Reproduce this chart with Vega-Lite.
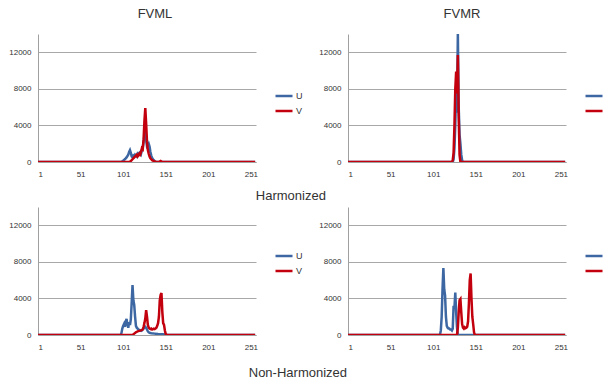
{
  "$schema": "https://vega.github.io/schema/vega-lite/v6.json",
  "background": "white",
  "padding": {"left": 8, "top": 8, "right": 0, "bottom": 0},
  "spacing": 4,
  "config": {
    "view": {"stroke": null},
    "font": "Liberation Sans",
    "axis": {"labelFont": "Liberation Sans", "labelFontSize": 8, "labelColor": "#333333", "ticks": false, "domainColor": "#a0a0a0", "gridColor": "#a8a8a8", "titleFontSize": 0, "format": "d"},
    "legend": {"labelFont": "Liberation Sans", "labelFontSize": 9, "labelColor": "#333333"},
    "title": {"font": "Liberation Sans", "fontSize": 13, "fontWeight": "normal", "color": "#333333", "anchor": "middle"},
    "concat": {"spacing": 15}
  },
  "data": {"values": [
    {"p":"A","s":"U","x":1,"y":0},{"p":"A","s":"U","x":99,"y":0},{"p":"A","s":"U","x":101,"y":150},{"p":"A","s":"U","x":103,"y":300},{"p":"A","s":"U","x":105,"y":500},{"p":"A","s":"U","x":107,"y":800},{"p":"A","s":"U","x":108,"y":1100},{"p":"A","s":"U","x":109,"y":1300},{"p":"A","s":"U","x":110,"y":1000},{"p":"A","s":"U","x":111,"y":600},{"p":"A","s":"U","x":112,"y":500},{"p":"A","s":"U","x":113,"y":700},{"p":"A","s":"U","x":114,"y":600},{"p":"A","s":"U","x":115,"y":800},{"p":"A","s":"U","x":116,"y":700},{"p":"A","s":"U","x":117,"y":600},{"p":"A","s":"U","x":118,"y":900},{"p":"A","s":"U","x":119,"y":800},{"p":"A","s":"U","x":120,"y":1000},{"p":"A","s":"U","x":121,"y":1100},{"p":"A","s":"U","x":122,"y":900},{"p":"A","s":"U","x":123,"y":1300},{"p":"A","s":"U","x":124,"y":1600},{"p":"A","s":"U","x":125,"y":2200},{"p":"A","s":"U","x":126,"y":2900},{"p":"A","s":"U","x":127,"y":3100},{"p":"A","s":"U","x":128,"y":2400},{"p":"A","s":"U","x":129,"y":1700},{"p":"A","s":"U","x":130,"y":1800},{"p":"A","s":"U","x":131,"y":2000},{"p":"A","s":"U","x":132,"y":1700},{"p":"A","s":"U","x":133,"y":1100},{"p":"A","s":"U","x":134,"y":700},{"p":"A","s":"U","x":135,"y":450},{"p":"A","s":"U","x":136,"y":300},{"p":"A","s":"U","x":137,"y":200},{"p":"A","s":"U","x":138,"y":100},{"p":"A","s":"U","x":139,"y":0},{"p":"A","s":"U","x":256,"y":0},
    {"p":"A","s":"V","x":1,"y":0},{"p":"A","s":"V","x":108,"y":0},{"p":"A","s":"V","x":110,"y":100},{"p":"A","s":"V","x":112,"y":300},{"p":"A","s":"V","x":114,"y":500},{"p":"A","s":"V","x":116,"y":700},{"p":"A","s":"V","x":117,"y":800},{"p":"A","s":"V","x":118,"y":600},{"p":"A","s":"V","x":119,"y":700},{"p":"A","s":"V","x":120,"y":900},{"p":"A","s":"V","x":121,"y":800},{"p":"A","s":"V","x":122,"y":1100},{"p":"A","s":"V","x":123,"y":1500},{"p":"A","s":"V","x":124,"y":1400},{"p":"A","s":"V","x":125,"y":2500},{"p":"A","s":"V","x":126,"y":4500},{"p":"A","s":"V","x":127,"y":5900},{"p":"A","s":"V","x":128,"y":4200},{"p":"A","s":"V","x":129,"y":2200},{"p":"A","s":"V","x":130,"y":1300},{"p":"A","s":"V","x":131,"y":900},{"p":"A","s":"V","x":132,"y":600},{"p":"A","s":"V","x":133,"y":400},{"p":"A","s":"V","x":134,"y":300},{"p":"A","s":"V","x":135,"y":200},{"p":"A","s":"V","x":136,"y":150},{"p":"A","s":"V","x":137,"y":100},{"p":"A","s":"V","x":138,"y":50},{"p":"A","s":"V","x":140,"y":0},{"p":"A","s":"V","x":143,"y":0},{"p":"A","s":"V","x":145,"y":120},{"p":"A","s":"V","x":147,"y":0},{"p":"A","s":"V","x":256,"y":0},
    {"p":"B","s":"U","x":1,"y":0},{"p":"B","s":"U","x":124,"y":0},{"p":"B","s":"U","x":125,"y":300},{"p":"B","s":"U","x":126,"y":1500},{"p":"B","s":"U","x":127,"y":4000},{"p":"B","s":"U","x":128,"y":8000},{"p":"B","s":"U","x":129,"y":5400},{"p":"B","s":"U","x":130,"y":14000},{"p":"B","s":"U","x":131,"y":6000},{"p":"B","s":"U","x":132,"y":3000},{"p":"B","s":"U","x":133,"y":2000},{"p":"B","s":"U","x":134,"y":800},{"p":"B","s":"U","x":135,"y":200},{"p":"B","s":"U","x":136,"y":0},{"p":"B","s":"U","x":256,"y":0},
    {"p":"B","s":"V","x":1,"y":0},{"p":"B","s":"V","x":123,"y":0},{"p":"B","s":"V","x":124,"y":200},{"p":"B","s":"V","x":125,"y":1000},{"p":"B","s":"V","x":126,"y":4000},{"p":"B","s":"V","x":127,"y":8000},{"p":"B","s":"V","x":128,"y":9900},{"p":"B","s":"V","x":129,"y":7500},{"p":"B","s":"V","x":130,"y":11700},{"p":"B","s":"V","x":131,"y":5000},{"p":"B","s":"V","x":132,"y":800},{"p":"B","s":"V","x":133,"y":0},{"p":"B","s":"V","x":256,"y":0},
    {"p":"C","s":"U","x":1,"y":0},{"p":"C","s":"U","x":98,"y":0},{"p":"C","s":"U","x":99,"y":200},{"p":"C","s":"U","x":100,"y":700},{"p":"C","s":"U","x":101,"y":1000},{"p":"C","s":"U","x":102,"y":1200},{"p":"C","s":"U","x":103,"y":900},{"p":"C","s":"U","x":104,"y":1500},{"p":"C","s":"U","x":105,"y":1750},{"p":"C","s":"U","x":106,"y":1100},{"p":"C","s":"U","x":107,"y":800},{"p":"C","s":"U","x":108,"y":1400},{"p":"C","s":"U","x":109,"y":1100},{"p":"C","s":"U","x":110,"y":1700},{"p":"C","s":"U","x":111,"y":3500},{"p":"C","s":"U","x":112,"y":5460},{"p":"C","s":"U","x":113,"y":3800},{"p":"C","s":"U","x":114,"y":3300},{"p":"C","s":"U","x":115,"y":2000},{"p":"C","s":"U","x":116,"y":1000},{"p":"C","s":"U","x":117,"y":800},{"p":"C","s":"U","x":118,"y":700},{"p":"C","s":"U","x":119,"y":600},{"p":"C","s":"U","x":120,"y":550},{"p":"C","s":"U","x":121,"y":500},{"p":"C","s":"U","x":122,"y":450},{"p":"C","s":"U","x":123,"y":500},{"p":"C","s":"U","x":124,"y":600},{"p":"C","s":"U","x":125,"y":700},{"p":"C","s":"U","x":126,"y":800},{"p":"C","s":"U","x":127,"y":900},{"p":"C","s":"U","x":128,"y":800},{"p":"C","s":"U","x":129,"y":600},{"p":"C","s":"U","x":130,"y":400},{"p":"C","s":"U","x":131,"y":300},{"p":"C","s":"U","x":132,"y":250},{"p":"C","s":"U","x":134,"y":200},{"p":"C","s":"U","x":138,"y":150},{"p":"C","s":"U","x":142,"y":100},{"p":"C","s":"U","x":147,"y":80},{"p":"C","s":"U","x":151,"y":50},{"p":"C","s":"U","x":153,"y":0},{"p":"C","s":"U","x":256,"y":0},
    {"p":"C","s":"V","x":1,"y":0},{"p":"C","s":"V","x":112,"y":0},{"p":"C","s":"V","x":114,"y":150},{"p":"C","s":"V","x":116,"y":300},{"p":"C","s":"V","x":118,"y":400},{"p":"C","s":"V","x":120,"y":450},{"p":"C","s":"V","x":122,"y":500},{"p":"C","s":"V","x":124,"y":600},{"p":"C","s":"V","x":125,"y":900},{"p":"C","s":"V","x":126,"y":1300},{"p":"C","s":"V","x":127,"y":1800},{"p":"C","s":"V","x":128,"y":2730},{"p":"C","s":"V","x":129,"y":2000},{"p":"C","s":"V","x":130,"y":1100},{"p":"C","s":"V","x":131,"y":800},{"p":"C","s":"V","x":132,"y":700},{"p":"C","s":"V","x":133,"y":650},{"p":"C","s":"V","x":134,"y":700},{"p":"C","s":"V","x":135,"y":600},{"p":"C","s":"V","x":136,"y":650},{"p":"C","s":"V","x":137,"y":700},{"p":"C","s":"V","x":138,"y":650},{"p":"C","s":"V","x":139,"y":700},{"p":"C","s":"V","x":140,"y":800},{"p":"C","s":"V","x":141,"y":1000},{"p":"C","s":"V","x":142,"y":1300},{"p":"C","s":"V","x":143,"y":2000},{"p":"C","s":"V","x":144,"y":3800},{"p":"C","s":"V","x":145,"y":4400},{"p":"C","s":"V","x":146,"y":4590},{"p":"C","s":"V","x":147,"y":2500},{"p":"C","s":"V","x":148,"y":1300},{"p":"C","s":"V","x":149,"y":1100},{"p":"C","s":"V","x":150,"y":500},{"p":"C","s":"V","x":151,"y":100},{"p":"C","s":"V","x":152,"y":0},{"p":"C","s":"V","x":256,"y":0},
    {"p":"D","s":"U","x":1,"y":0},{"p":"D","s":"U","x":109,"y":0},{"p":"D","s":"U","x":110,"y":500},{"p":"D","s":"U","x":111,"y":2000},{"p":"D","s":"U","x":112,"y":5000},{"p":"D","s":"U","x":113,"y":7320},{"p":"D","s":"U","x":114,"y":5000},{"p":"D","s":"U","x":115,"y":4300},{"p":"D","s":"U","x":116,"y":2000},{"p":"D","s":"U","x":117,"y":1000},{"p":"D","s":"U","x":118,"y":800},{"p":"D","s":"U","x":119,"y":700},{"p":"D","s":"U","x":120,"y":700},{"p":"D","s":"U","x":121,"y":600},{"p":"D","s":"U","x":122,"y":600},{"p":"D","s":"U","x":123,"y":500},{"p":"D","s":"U","x":124,"y":700},{"p":"D","s":"U","x":125,"y":3200},{"p":"D","s":"U","x":126,"y":3000},{"p":"D","s":"U","x":127,"y":4650},{"p":"D","s":"U","x":128,"y":2500},{"p":"D","s":"U","x":129,"y":800},{"p":"D","s":"U","x":130,"y":0},{"p":"D","s":"U","x":256,"y":0},
    {"p":"D","s":"V","x":1,"y":0},{"p":"D","s":"V","x":129,"y":0},{"p":"D","s":"V","x":130,"y":800},{"p":"D","s":"V","x":131,"y":2500},{"p":"D","s":"V","x":132,"y":3800},{"p":"D","s":"V","x":133,"y":3930},{"p":"D","s":"V","x":134,"y":2500},{"p":"D","s":"V","x":135,"y":1200},{"p":"D","s":"V","x":136,"y":800},{"p":"D","s":"V","x":137,"y":700},{"p":"D","s":"V","x":138,"y":850},{"p":"D","s":"V","x":139,"y":750},{"p":"D","s":"V","x":140,"y":800},{"p":"D","s":"V","x":141,"y":900},{"p":"D","s":"V","x":142,"y":1500},{"p":"D","s":"V","x":143,"y":3500},{"p":"D","s":"V","x":144,"y":6000},{"p":"D","s":"V","x":145,"y":6730},{"p":"D","s":"V","x":146,"y":4000},{"p":"D","s":"V","x":147,"y":2000},{"p":"D","s":"V","x":148,"y":1200},{"p":"D","s":"V","x":149,"y":300},{"p":"D","s":"V","x":150,"y":0},{"p":"D","s":"V","x":256,"y":0}
  ]},
  "vconcat": [
    {
      "title": {"text": "Harmonized", "orient": "bottom", "offset": 12, "dx": -20},
      "resolve": {"legend": {"color": "independent"}},
      "hconcat": [
        {
          "title": {"text": "FVML", "offset": 13, "dx": 8},
          "width": 218, "height": 128,
          "transform": [{"filter": "datum.p == 'A'"}],
          "mark": {"type": "line", "strokeWidth": 2.5, "clip": true},
          "encoding": {
            "x": {"field": "x", "type": "quantitative", "scale": {"domain": [1, 257], "nice": false, "zero": false}, "axis": {"values": [1, 51, 101, 151, 201, 251], "title": null, "grid": false, "labelPadding": 8}},
            "y": {"field": "y", "type": "quantitative", "scale": {"domain": [0, 14000], "nice": false}, "axis": {"values": [0, 4000, 8000, 12000], "title": null, "grid": true, "labelPadding": 7}},
            "color": {"field": "s", "type": "nominal", "scale": {"domain": ["U", "V"], "range": ["#3d67a3", "#c3000d"]}, "legend": {"title": null, "orient": "none", "legendX": 236, "legendY": 52, "symbolType": "stroke", "symbolSize": 289, "symbolStrokeWidth": 2.5, "labelOffset": 2, "rowPadding": 0}}
          }
        },
        {
          "title": {"text": "FVMR", "offset": 13, "dx": 5},
          "width": 218, "height": 128,
          "transform": [{"filter": "datum.p == 'B'"}],
          "mark": {"type": "line", "strokeWidth": 2.5, "clip": true},
          "encoding": {
            "x": {"field": "x", "type": "quantitative", "scale": {"domain": [1, 257], "nice": false, "zero": false}, "axis": {"values": [1, 51, 101, 151, 201, 251], "title": null, "grid": false, "labelPadding": 8}},
            "y": {"field": "y", "type": "quantitative", "scale": {"domain": [0, 14000], "nice": false}, "axis": {"values": [0, 4000, 8000, 12000], "title": null, "grid": true, "labelPadding": 7}},
            "color": {"field": "s", "type": "nominal", "scale": {"domain": ["U", "V"], "range": ["#3d67a3", "#c3000d"]}, "legend": {"title": null, "orient": "none", "legendX": 236, "legendY": 52, "symbolType": "stroke", "symbolSize": 289, "symbolStrokeWidth": 2.5, "labelOffset": 2, "rowPadding": 0}}
          }
        }
      ]
    },
    {
      "title": {"text": "Non-Harmonized", "orient": "bottom", "offset": 16, "dx": -13},
      "resolve": {"legend": {"color": "independent"}},
      "hconcat": [
        {
          "width": 218, "height": 128,
          "transform": [{"filter": "datum.p == 'C'"}],
          "mark": {"type": "line", "strokeWidth": 2.5, "clip": true},
          "encoding": {
            "x": {"field": "x", "type": "quantitative", "scale": {"domain": [1, 257], "nice": false, "zero": false}, "axis": {"values": [1, 51, 101, 151, 201, 251], "title": null, "grid": false, "labelPadding": 8}},
            "y": {"field": "y", "type": "quantitative", "scale": {"domain": [0, 14000], "nice": false}, "axis": {"values": [0, 4000, 8000, 12000], "title": null, "grid": true, "labelPadding": 7}},
            "color": {"field": "s", "type": "nominal", "scale": {"domain": ["U", "V"], "range": ["#3d67a3", "#c3000d"]}, "legend": {"title": null, "orient": "none", "legendX": 236, "legendY": 39, "symbolType": "stroke", "symbolSize": 289, "symbolStrokeWidth": 2.5, "labelOffset": 2, "rowPadding": 0}}
          }
        },
        {
          "width": 218, "height": 128,
          "transform": [{"filter": "datum.p == 'D'"}],
          "mark": {"type": "line", "strokeWidth": 2.5, "clip": true},
          "encoding": {
            "x": {"field": "x", "type": "quantitative", "scale": {"domain": [1, 257], "nice": false, "zero": false}, "axis": {"values": [1, 51, 101, 151, 201, 251], "title": null, "grid": false, "labelPadding": 8}},
            "y": {"field": "y", "type": "quantitative", "scale": {"domain": [0, 14000], "nice": false}, "axis": {"values": [0, 4000, 8000, 12000], "title": null, "grid": true, "labelPadding": 7}},
            "color": {"field": "s", "type": "nominal", "scale": {"domain": ["U", "V"], "range": ["#3d67a3", "#c3000d"]}, "legend": {"title": null, "orient": "none", "legendX": 236, "legendY": 39, "symbolType": "stroke", "symbolSize": 289, "symbolStrokeWidth": 2.5, "labelOffset": 2, "rowPadding": 0}}
          }
        }
      ]
    }
  ],
  "resolve": {"legend": {"color": "independent"}}
}
